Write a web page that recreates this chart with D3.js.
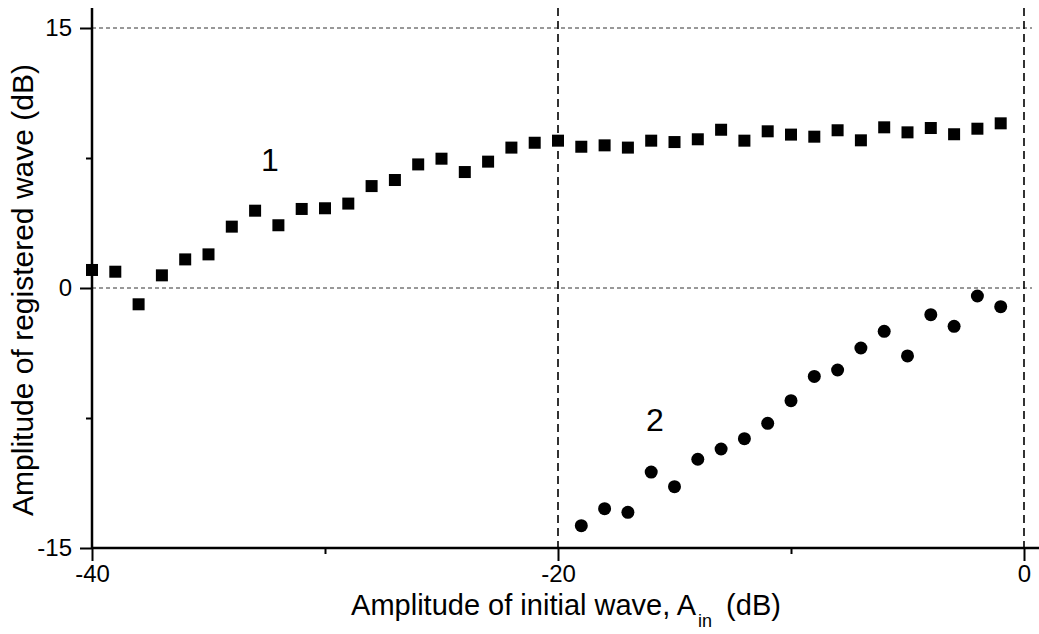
<!DOCTYPE html>
<html>
<head>
<meta charset="utf-8">
<script src="https://cdn.jsdelivr.net/npm/d3@7"></script>
<style>
  body { margin: 0; background: #fff; }
  svg { display: block; font-family: "Liberation Sans", Arial, sans-serif; }
</style>
</head>
<body>
<svg id="chart" width="1039" height="634"></svg>
<script>
// series 1 (squares)
const xSquares = [-40, -39, -38, -37, -36, -35, -34, -33, -32, -31, -30, -29, -28, -27, -26, -25, -24, -23, -22, -21,
                  -20, -19, -18, -17, -16, -15, -14, -13, -12, -11, -10, -9, -8, -7, -6, -5, -4, -3, -2, -1];
const ySquares = [1.04, 0.94, -0.94, 0.73, 1.65, 1.94, 3.54, 4.46, 3.62, 4.56, 4.60, 4.87, 5.88, 6.23, 7.13, 7.46, 6.69, 7.29, 8.10, 8.38,
                  8.50, 8.15, 8.23, 8.10, 8.50, 8.42, 8.58, 9.13, 8.50, 9.04, 8.85, 8.73, 9.10, 8.52, 9.27, 8.98, 9.23, 8.87, 9.19, 9.50];

// series 2 (circles)
const xCircles = [-19, -18, -17, -16, -15, -14, -13, -12, -11, -10, -9, -8, -7, -6, -5, -4, -3, -2, -1];
const yCircles = [-13.71, -12.73, -12.94, -10.62, -11.46, -9.88, -9.29, -8.69, -7.81, -6.50, -5.10, -4.73, -3.46, -2.50, -3.92, -1.54, -2.21, -0.46, -1.08];

const xTicks = [-40, -20, 0];
const xMinor = [-30, -10];
const yTicks = [-15, 0, 15];
const yMinor = [-7.5, 7.5];
const hGrid = [0, 15];
const vGrid = [-20, 0];

const svg = d3.select("#chart");
const pad = { left: 92, right: 1024, top: 28, bottom: 548 };

const x = d3.scaleLinear().domain([-40, 0]).range([pad.left, pad.right]);
const y = d3.scaleLinear().domain([-15, 15]).range([pad.bottom, pad.top]);

const fmt = d => String(d);  // plain hyphen minus, like the original

// grid lines
svg.selectAll(".hgrid").data(hGrid).join("line")
    .attr("x1", pad.left).attr("x2", 1032)
    .attr("y1", d => y(d)).attr("y2", d => y(d))
    .attr("stroke", "#333").attr("stroke-width", 1)
    .attr("stroke-dasharray", "4,3");

svg.selectAll(".vgrid").data(vGrid).join("line")
    .attr("x1", d => x(d)).attr("x2", d => x(d))
    .attr("y1", 8).attr("y2", pad.bottom)
    .attr("stroke", "#000").attr("stroke-width", 1.6)
    .attr("stroke-dasharray", "8,5");

// axes
const xAxis = svg.append("g")
    .attr("transform", `translate(0,${pad.bottom})`)
    .call(d3.axisBottom(x).tickValues(xTicks).tickSize(13).tickSizeOuter(0).tickPadding(4).tickFormat(fmt));
xAxis.select(".domain").remove();
xAxis.selectAll("line").attr("stroke-width", 2);
xAxis.selectAll("text").style("font-size", "24px").attr("fill", "#000");

svg.append("g")
    .attr("transform", `translate(0,${pad.bottom})`)
    .call(d3.axisBottom(x).tickValues(xMinor).tickSize(6).tickFormat(""))
    .call(g => g.select(".domain").remove())
    .selectAll("line").attr("stroke-width", 2);

const yAxis = svg.append("g")
    .attr("transform", `translate(${pad.left},0)`)
    .call(d3.axisLeft(y).tickValues(yTicks).tickSize(12).tickSizeOuter(0).tickPadding(8).tickFormat(fmt));
yAxis.select(".domain").remove();
yAxis.selectAll("line").attr("stroke-width", 2);
yAxis.selectAll("text").style("font-size", "24px").attr("fill", "#000");

svg.append("g")
    .attr("transform", `translate(${pad.left},0)`)
    .call(d3.axisLeft(y).tickValues(yMinor).tickSize(6).tickFormat(""))
    .call(g => g.select(".domain").remove())
    .selectAll("line").attr("stroke-width", 2);

// axis lines
svg.append("line")
    .attr("x1", pad.left).attr("x2", 1039)
    .attr("y1", pad.bottom).attr("y2", pad.bottom)
    .attr("stroke", "#000").attr("stroke-width", 2.5);
svg.append("line")
    .attr("x1", pad.left).attr("x2", pad.left)
    .attr("y1", 8).attr("y2", pad.bottom)
    .attr("stroke", "#000").attr("stroke-width", 2.5);

// data marks
const sq = 12;
svg.selectAll(".sq").data(xSquares).join("rect")
    .attr("x", (d, i) => x(d) - sq / 2)
    .attr("y", (d, i) => y(ySquares[i]) - sq / 2)
    .attr("width", sq).attr("height", sq)
    .attr("fill", "#000");

svg.selectAll(".ci").data(xCircles).join("circle")
    .attr("cx", d => x(d))
    .attr("cy", (d, i) => y(yCircles[i]))
    .attr("r", 6.5)
    .attr("fill", "#000");

// series labels
svg.append("text").attr("x", 270).attr("y", 171)
    .attr("text-anchor", "middle").style("font-size", "32px").text("1");
svg.append("text").attr("x", 655).attr("y", 431)
    .attr("text-anchor", "middle").style("font-size", "32px").text("2");

// axis titles
const xt = svg.append("text")
    .attr("x", 566).attr("y", 615)
    .attr("text-anchor", "middle")
    .style("font-size", "29px");
xt.append("tspan").text("Amplitude of initial wave, A");
xt.append("tspan").attr("dy", 12).attr("dx", 2).style("font-size", "18px").text("in");
xt.append("tspan").attr("dy", -12).attr("dx", 14).text("(dB)");

svg.append("text")
    .attr("transform", "translate(33,290) rotate(-90)")
    .attr("text-anchor", "middle")
    .style("font-size", "30px")
    .text("Amplitude of registered wave (dB)");
</script>
</body>
</html>
